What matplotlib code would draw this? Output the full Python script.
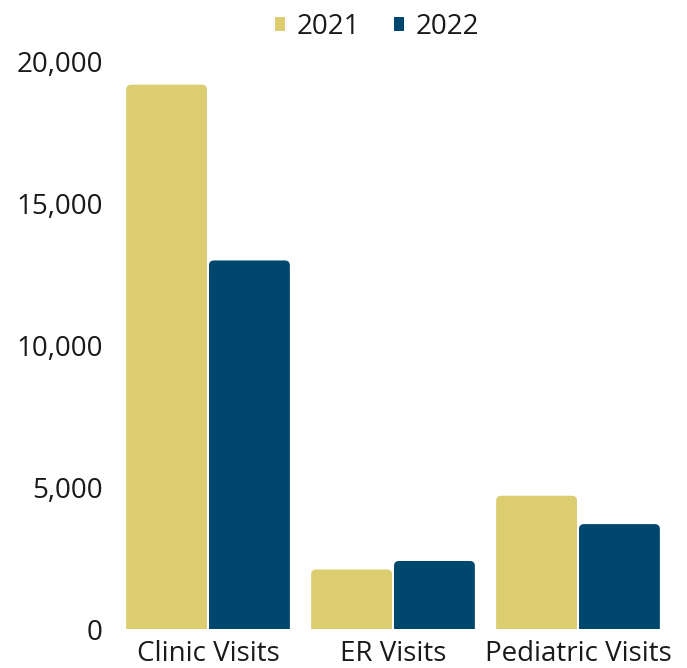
import matplotlib
matplotlib.use("Agg")
import matplotlib.pyplot as plt
from matplotlib.patches import FancyBboxPatch
import numpy as np

categories = ["Clinic Visits", "ER Visits", "Pediatric Visits"]
series_names = ["2021", "2022"]
values_2021 = [19200, 2100, 4700]
values_2022 = [13000, 2400, 3700]
yticks = [0, 5000, 10000, 15000, 20000]
ytick_labels = ["0", "5,000", "10,000", "15,000", "20,000"]

colors = ["#DCCD71", "#00476E"]
plt.rcParams['font.family'] = ['Open Sans', 'DejaVu Sans']

fig = plt.figure(figsize=(6.87, 6.68), dpi=100)
ax = fig.add_axes([115.5/687, 39/668, 555/687, 567/668])

x = np.arange(len(categories))
off = 0.224
w = 0.437
b1 = ax.bar(x - off, values_2021, w, color=colors[0], label=series_names[0])
b2 = ax.bar(x + off, values_2022, w, color=colors[1], label=series_names[1])

ax.set_xlim(-0.5, 2.5)
ax.set_ylim(0, 20000)

# rounded tops
xpp = 3.0 / 555  # x data per px
ypp = 20000 / 567
for bars, c in ((b1, colors[0]), (b2, colors[1])):
    for r in bars:
        r.set_visible(False)
        bx, by = r.get_x(), r.get_y()
        bw, bh = r.get_width(), r.get_height()
        p = FancyBboxPatch((bx, by - 10 * ypp), bw, bh + 10 * ypp,
                           boxstyle=f"round,pad=0,rounding_size={5*xpp}",
                           mutation_aspect=ypp / xpp, facecolor=c, edgecolor='none')
        ax.add_patch(p)

ax.set_yticks(yticks)
ax.set_yticklabels(ytick_labels)
ax.set_xticks(x)
ax.set_xticklabels(categories)
ax.tick_params(axis='both', length=0, labelsize=20, colors='#1a1a1a')
ax.tick_params(axis='y', pad=9)
ax.tick_params(axis='x', pad=8)
for s in ax.spines.values():
    s.set_visible(False)

leg = fig.legend(handles=[b1, b2], labels=series_names, loc='center', bbox_to_anchor=(377/687, 1 - 27/668),
                 ncol=2, frameon=False, fontsize=20, handlelength=0.35, handleheight=0.35,
                 handletextpad=0.4, columnspacing=1.25)
for h in leg.legend_handles:
    h.set_visible(True)
for t in leg.get_texts():
    t.set_color('#1a1a1a')

fig.savefig("out.png", dpi=100)
